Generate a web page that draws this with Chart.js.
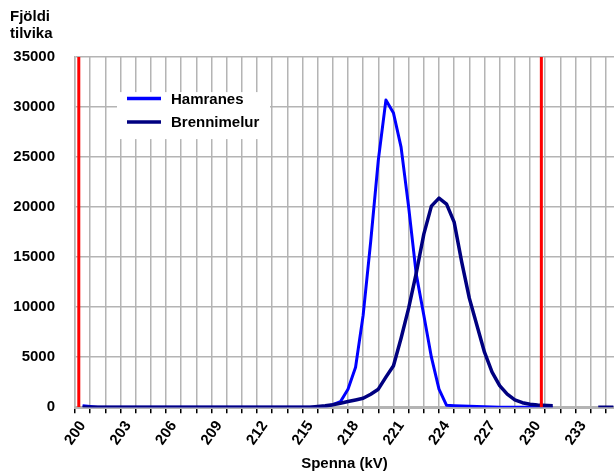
<!DOCTYPE html>
<html>
<head>
<meta charset="utf-8">
<script src="https://cdn.jsdelivr.net/npm/chart.js@4.4.1/dist/chart.umd.min.js"></script>
<style>
  html, body { margin: 0; padding: 0; background: #fff; }
</style>
</head>
<body>
<canvas id="spenna" width="614" height="473"></canvas>
<script>
// Spenna í kV: heilar tölur utan toppanna, hálf kV í kringum þá
const kv = [
    200, 201, 202, 203, 204, 205, 206, 207, 208, 209, 210, 211, 212, 213, 214,
    215, 215.5, 216, 216.5, 217, 217.5, 218, 218.5, 219, 219.5, 220, 220.5,
    221, 221.5, 222, 222.5, 223, 223.5, 224, 224.5, 225, 225.5, 226, 226.5,
    227, 227.5, 228, 228.5, 229, 229.5, 230,
    231, 232, 233, 234, 235
];

const hamranes = [
    150, 0, 0, 0, 0, 0, 0, 0, 0, 0, 0, 0, 0, 0, 0,
    0, 0, 30, 250, 550, 1800, 4000, 9200, 16600, 24700, 30700, 29400,
    26000, 20000, 13300, 9200, 5000, 1800, 190, 150, 120, 90, 60, 40,
    20, 0, 0, 0, 0, 0, 0,
    0, null, null, null, null
];

const brennimelur = [
    0, 0, 0, 0, 0, 0, 0, 0, 0, 0, 0, 0, 0, 0, 0,
    0, 80, 150, 250, 390, 560, 720, 890, 1300, 1800, 3000, 4150,
    6900, 9900, 13400, 17300, 20100, 20900, 20300, 18500, 14500, 10900, 8200, 5500,
    3500, 2150, 1300, 720, 450, 290, 220,
    150, null, null, 0, 0
];

// vikmörk (rauðu línurnar)
const limits = [199.75, 230.25];

const yTicks = [0, 5000, 10000, 15000, 20000, 25000, 30000, 35000];

const FONT = 'Liberation Sans, Arial, Helvetica, sans-serif';
const GRID = '#b4b4b4';

function toPoints(values) {
    return values.map((y, i) => ({ x: kv[i], y: y }));
}

function limitLine(x) {
    return {
        data: [{ x: x, y: yTicks[0] }, { x: x, y: yTicks[yTicks.length - 1] }],
        borderColor: '#ff0000',
        borderWidth: 3,
        pointRadius: 0
    };
}

function isBoundary(v) {
    return Math.abs(v - Math.floor(v) - 0.5) < 1e-6;
}

// hvít skýringarkassi inni í teiknisvæðinu
const boxLegend = {
    id: 'boxLegend',
    afterDraw(chart) {
        const ctx = chart.ctx;
        const area = chart.chartArea;
        const left = area.left + 42;
        const top = area.top + 35;
        ctx.save();
        ctx.fillStyle = '#ffffff';
        ctx.fillRect(left, top, 153, 47);
        const items = chart.data.datasets.filter(d => d.label).sort((a, b) => a.legendRow - b.legendRow);
        items.forEach((d, i) => {
            const y = top + 6.5 + i * 23.3;
            ctx.strokeStyle = d.borderColor;
            ctx.lineWidth = 3.5;
            ctx.beginPath();
            ctx.moveTo(left + 10, y);
            ctx.lineTo(left + 44, y);
            ctx.stroke();
            ctx.fillStyle = '#000';
            ctx.font = 'bold 15px ' + FONT;
            ctx.textBaseline = 'middle';
            ctx.textAlign = 'left';
            ctx.fillText(d.label, left + 54, y + 1);
        });
        ctx.restore();
    }
};

const chart = new Chart(document.getElementById('spenna'), {
    type: 'line',
    data: {
        datasets: [
            limitLine(limits[0]),
            limitLine(limits[1]),
            {
                label: 'Brennimelur',
                legendRow: 1,
                data: toPoints(brennimelur),
                borderColor: '#000080',
                borderWidth: 3.5,
                pointRadius: 0,
                spanGaps: false,
                borderJoinStyle: 'round'
            },
            {
                label: 'Hamranes',
                legendRow: 0,
                data: toPoints(hamranes),
                borderColor: '#0000ff',
                borderWidth: 3,
                pointRadius: 0,
                spanGaps: false,
                borderJoinStyle: 'round'
            }
        ]
    },
    options: {
        responsive: false,
        animation: false,
        layout: { padding: { left: 10, right: 0, top: 0, bottom: 0 } },
        plugins: {
            legend: { display: false },
            tooltip: { enabled: false },
            title: {
                display: true,
                text: ['Fjöldi', 'tilvika'],
                align: 'start',
                color: '#000',
                font: { family: FONT, size: 15, weight: 'bold', lineHeight: 1.17 },
                padding: { top: 8, bottom: 14 }
            }
        },
        scales: {
            x: {
                type: 'linear',
                min: 199.5,
                max: 235.04,
                afterBuildTicks(scale) {
                    const ticks = [];
                    for (let v = scale.min; v <= scale.max + 1e-9; v += 0.5) {
                        ticks.push({ value: Math.round(v * 2) / 2 });
                    }
                    scale.ticks = ticks;
                },
                afterFit(scale) {
                    // plássið fer alveg út að hægri brún
                    scale.paddingRight = 0;
                    scale.paddingLeft = 0;
                },
                grid: {
                    color: c => (c.tick && isBoundary(c.tick.value)) ? GRID : 'rgba(0,0,0,0)',
                    tickColor: c => (c.tick && isBoundary(c.tick.value)) ? '#000' : 'rgba(0,0,0,0)',
                    lineWidth: 1.5,
                    tickWidth: 1.5,
                    tickLength: 6
                },
                border: { color: GRID, width: 3 },
                ticks: {
                    autoSkip: false,
                    minRotation: 55,
                    maxRotation: 55,
                    padding: 4.5,
                    color: '#000',
                    font: { family: FONT, size: 15, weight: 'bold' },
                    callback: function (value) {
                        const r = Math.round(value);
                        if (Math.abs(value - r) > 1e-6 || r < 200 || (r - 200) % 3 !== 0) return '';
                        return String(r);
                    }
                },
                title: {
                    display: true,
                    text: 'Spenna (kV)',
                    color: '#000',
                    font: { family: FONT, size: 15, weight: 'bold' },
                    padding: { top: 2, bottom: 0 }
                }
            },
            y: {
                min: yTicks[0],
                max: yTicks[yTicks.length - 1],
                afterBuildTicks(scale) {
                    scale.ticks = yTicks.map(v => ({ value: v }));
                },
                afterFit(scale) {
                    scale.width = 65;
                },
                grid: { color: GRID, lineWidth: 1.5, drawTicks: false },
                border: { color: GRID, width: 1.5 },
                ticks: {
                    padding: 20,
                    color: '#000',
                    font: { family: FONT, size: 15, weight: 'bold' },
                    callback: value => String(value)
                }
            }
        }
    },
    plugins: [boxLegend]
});
</script>
</body>
</html>
